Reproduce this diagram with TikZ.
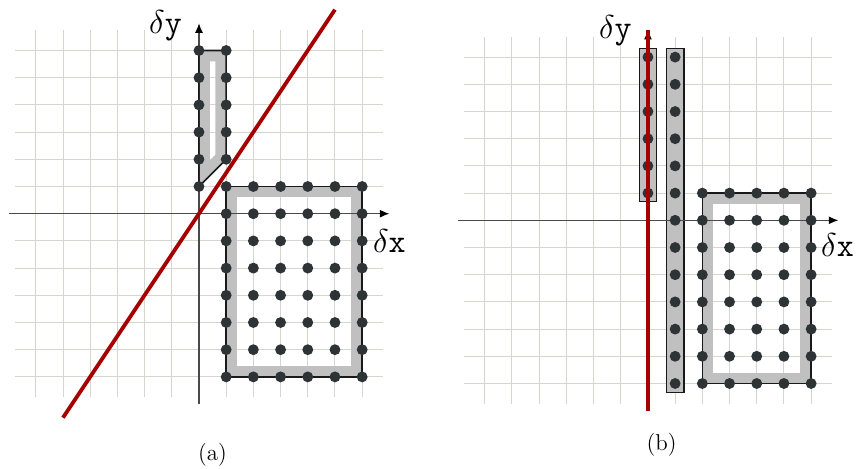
\documentclass[tikz,border=0pt]{standalone}
\usetikzlibrary{arrows.meta}
\definecolor{gridc}{HTML}{D3D7CF}
\definecolor{dotc}{HTML}{2E3436}
\definecolor{redc}{HTML}{A40000}
\definecolor{bandc}{HTML}{C0C0C0}
\definecolor{axisc}{HTML}{4A4A4A}
\begin{document}
\begin{tikzpicture}[x=0.5cm,y=0.5cm,
  gridline/.style={gridc, line width=0.5pt},
  axisline/.style={axisc, line width=0.6pt, -{Latex[length=5pt,width=4.2pt,fill=black,color=black]}},
  band/.style={bandc, line width=0.4cm, line join=miter},
  outline/.style={black!90, line width=0.8pt, line join=miter},
  boxst/.style={fill=bandc, draw=black!90, line width=0.7pt},
  redline/.style={redc, line width=2pt},
  dotfill/.style={fill=dotc},
  lbl/.style={font=\LARGE, inner sep=0pt, anchor=base},
  captext/.style={font=\large, inner sep=0pt, anchor=base}]
\useasboundingbox (-7.316,-9.35) rectangle (24.23,7.857);

% ---------------- panel (a) ----------------
\begin{scope}
  \foreach \i in {-6,...,6} {
    \draw[gridline] (\i,-6.75) -- (\i,6.75);
    \draw[gridline] (-6.75,\i) -- (6.75,\i);
  }
  \begin{scope}
    \clip (0,6) -- (1,6) -- (1,2) -- (0,1) -- cycle;
    \draw[band] (0,6) -- (1,6) -- (1,2) -- (0,1) -- cycle;
  \end{scope}
  \begin{scope}
    \clip (1,1) rectangle (6,-6);
    \draw[band] (1,1) rectangle (6,-6);
  \end{scope}
  \draw[axisline] (-7,0) -- (7,0);
  \draw[axisline] (0,-7) -- (0,7);
  \draw[outline] (0,6) -- (1,6) -- (1,2) -- (0,1) -- cycle;
  \draw[outline] (1,1) rectangle (6,-6);
  \foreach \y in {1,...,6} \fill[dotfill] (0,\y) circle (0.2);
  \foreach \y in {2,...,6} \fill[dotfill] (1,\y) circle (0.2);
  \foreach \x in {1,...,6} \foreach \y in {-6,...,1} \fill[dotfill] (\x,\y) circle (0.2);
  \draw[redline] (-5,-7.5) -- (5,7.5);
  \node[lbl] (dya) at (-1.23,6.64) {$\delta\mathtt{y}$};
  \node[lbl] (dxa) at (7.0,-1.42) {$\delta\mathtt{x}$};
  \node[captext] (capa) at (0.5,-9.06) {(a)};
\end{scope}

% ---------------- panel (b) ----------------
\begin{scope}[shift={(16.507,-0.243)}]
  \foreach \i in {-6,...,6} {
    \draw[gridline] (\i,-6.75) -- (\i,6.75);
    \draw[gridline] (-6.75,\i) -- (6.75,\i);
  }
  \draw[boxst] (-0.32,0.68) rectangle (0.32,6.32);
  \draw[boxst] (0.68,-6.32) rectangle (1.32,6.32);
  \begin{scope}
    \clip (2,1) rectangle (6,-6);
    \draw[band] (2,1) rectangle (6,-6);
  \end{scope}
  \draw[axisline] (-7,0) -- (7,0);
  \draw[axisline] (0,-7) -- (0,7);
  \draw[outline] (2,1) rectangle (6,-6);
  \foreach \y in {1,...,6} \fill[dotfill] (0,\y) circle (0.2);
  \foreach \y in {-6,...,6} \fill[dotfill] (1,\y) circle (0.2);
  \foreach \x in {2,...,6} \foreach \y in {-6,...,1} \fill[dotfill] (\x,\y) circle (0.2);
  \draw[redline] (0,-7) -- (0,7);
  \node[lbl] (dyb) at (-1.2,6.69) {$\delta\mathtt{y}$};
  \node[lbl] (dxb) at (6.97,-1.32) {$\delta\mathtt{x}$};
  \node[captext] (capb) at (0.5,-8.48) {(b)};
\end{scope}
\end{tikzpicture}
\end{document}
